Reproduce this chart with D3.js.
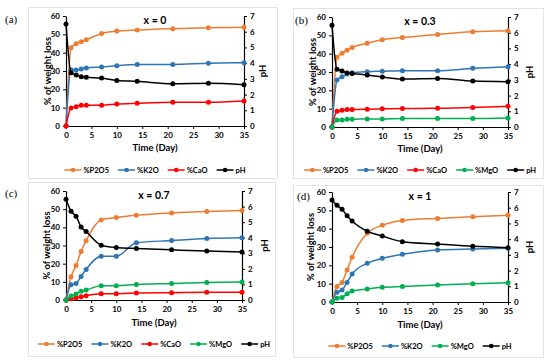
<!DOCTYPE html>
<html><head><meta charset="utf-8">
<script src="https://cdn.jsdelivr.net/npm/d3@7"></script>
<style>body{margin:0;background:#fff;} svg{display:block;}</style>
</head><body>
<svg id="c" width="550" height="362"></svg>
<script>
const days = [0,1,2,3,4,7,10,14,21,28,35];
const xTicks = [0,5,10,15,20,25,30,35];
const yTicks = [0,10,20,30,40,50,60];
const pHTicks = [0,1,2,3,4,5,6,7];
const panelLabels = ["(a)","(b)","(c)","(d)"];
const panelTitles = ["x = 0","x = 0.3","x = 0.7","x = 1"];
const seriesNames = ["%P2O5","%K2O","%CaO","%MgO","pH"];
const seriesColors = ["#ED7D31","#2E75B6","#FF0000","#00B050","#000000"];

// panel (a) x = 0
const a_P2O5 = [0,42.7,44.9,46.0,47.1,50.5,51.8,52.4,53.1,53.6,53.8];
const a_K2O  = [0,30.7,30.5,31.1,31.6,32.2,32.9,33.5,33.6,34.2,34.5];
const a_CaO  = [0,9.8,10.5,11.3,11.3,11.3,12.0,12.4,12.9,12.9,13.6];
const a_pH   = [6.49,3.39,3.25,3.14,3.10,3.05,2.90,2.84,2.69,2.72,2.63];
// panel (b) x = 0.3
const b_P2O5 = [0,38.0,40.2,41.9,43.4,45.7,47.6,48.8,50.5,51.9,52.5];
const b_K2O  = [0,25.6,27.4,28.9,29.6,30.2,30.4,30.7,30.7,32.0,32.9];
const b_CaO  = [0,8.6,9.1,9.5,9.5,9.7,9.9,10.1,10.2,10.6,11.3];
const b_MgO  = [0,3.8,3.8,4.2,4.2,4.4,4.4,4.6,4.6,4.6,4.9];
const b_pH   = [6.47,3.67,3.56,3.44,3.41,3.31,3.18,3.05,3.09,2.92,2.88];
// panel (c) x = 0.7
const c_P2O5 = [0,12.8,19.0,26.7,32.6,44.1,45.4,46.6,47.9,48.7,49.2];
const c_K2O  = [0,8.4,9.1,13.0,16.8,24.1,24.1,31.5,32.7,33.8,34.2];
const c_CaO  = [0,0.7,1.3,1.8,2.4,3.5,3.5,3.8,4.0,4.2,4.2];
const c_MgO  = [0,2.2,3.3,4.8,5.5,7.9,7.9,8.6,9.1,9.7,9.9];
const c_pH   = [6.47,5.70,5.38,4.69,4.40,3.52,3.37,3.31,3.22,3.14,3.09];
// panel (d) x = 1
const d_P2O5 = [0,8.5,10.7,17.5,24.4,37.5,41.8,44.4,45.6,46.5,47.3];
const d_K2O  = [0,5.3,6.5,10.7,15.3,21.1,23.8,26.0,28.4,28.9,29.3];
const d_MgO  = [0,2.0,2.5,4.5,6.0,7.1,8.0,8.5,9.3,10.0,10.5];
const d_pH   = [6.49,6.15,5.90,5.49,5.15,4.50,4.20,3.84,3.69,3.54,3.46];

const panels = [
  {label:0, frame:[28,7,277,178], labPos:[5,23], plot:[66,244,16,126], leg:170, yTitleX:48, pHX:263, timeY:151,
   series:[[0,a_P2O5],[1,a_K2O],[2,a_CaO],[4,a_pH]]},
  {label:1, frame:[293,8,543,178], labPos:[295,24], plot:[332,508,17,127], leg:170, yTitleX:313, pHX:530, timeY:152,
   series:[[0,b_P2O5],[1,b_K2O],[2,b_CaO],[3,b_MgO],[4,b_pH]]},
  {label:2, frame:[28,182,275,356], labPos:[5,197], plot:[66,242,191,300], leg:344, yTitleX:47, pHX:265, timeY:326,
   series:[[0,c_P2O5],[1,c_K2O],[2,c_CaO],[3,c_MgO],[4,c_pH]]},
  {label:3, frame:[293,185,543,357], labPos:[297,200], plot:[332,508,192,302], leg:346, yTitleX:311, pHX:530, timeY:328,
   series:[[0,d_P2O5],[1,d_K2O],[3,d_MgO],[4,d_pH]]}
];

const svg = d3.select("#c");
const FONT = "Lato, 'Open Sans', sans-serif";

panels.forEach((p, pi) => {
  const g = svg.append("g");
  const [fx0, fy0, fx1, fy1] = p.frame;
  g.append("rect").attr("x", fx0+0.5).attr("y", fy0+0.5).attr("width", fx1-fx0).attr("height", fy1-fy0)
    .attr("fill","none").attr("stroke","#e3e3e3").attr("stroke-width",1);
  g.append("text").attr("x", p.labPos[0]).attr("y", p.labPos[1]).attr("font-weight","normal")
    .attr("font-family","'Liberation Serif', 'DejaVu Serif', serif").attr("font-size",11).text(panelLabels[p.label]);

  const [x0,x1,yT,yB] = p.plot;
  const x = d3.scaleLinear().domain([0,35]).range([x0,x1]);
  const y = d3.scaleLinear().domain([0,60]).range([yB,yT]);
  const yp = d3.scaleLinear().domain([0,7]).range([yB,yT]);

  const axStyle = sel => {
    sel.selectAll("path").attr("stroke","#000").attr("stroke-width",1.2);
    sel.selectAll("line").attr("stroke","#000").attr("stroke-width",1);
    sel.selectAll("text").attr("font-family",FONT).attr("font-weight","bold").attr("font-size",8).attr("fill","#000");
  };
  const fmt = d3.format("d");
  g.append("g").attr("transform",`translate(0,${yB})`)
    .call(d3.axisBottom(x).tickValues(xTicks).tickFormat(fmt).tickSize(3).tickSizeOuter(0).tickPadding(3)).call(axStyle);
  g.append("g").attr("transform",`translate(${x0},0)`)
    .call(d3.axisLeft(y).tickValues(yTicks).tickFormat(fmt).tickSize(3).tickSizeOuter(0).tickPadding(3)).call(axStyle);
  g.append("g").attr("transform",`translate(${x1},0)`)
    .call(d3.axisRight(yp).tickValues(pHTicks).tickFormat(fmt).tickSize(3).tickSizeOuter(0).tickPadding(3)).call(axStyle);

  // titles
  g.append("text").attr("x",(x0+x1)/2).attr("y",yT+8).attr("text-anchor","middle")
    .attr("font-family",FONT).attr("font-weight","bold").attr("font-size",10.5).text(panelTitles[p.label]);
  g.append("text").attr("transform",`translate(${p.yTitleX},${(yT+yB)/2}) rotate(-90)`).attr("text-anchor","middle")
    .attr("dy","0.35em").attr("font-family",FONT).attr("font-weight","bold").attr("font-size",9.5).text("% of weight loss");
  g.append("text").attr("transform",`translate(${p.pHX},${(yT+yB)/2}) rotate(-90)`).attr("text-anchor","middle")
    .attr("dy","0.35em").attr("font-family",FONT).attr("font-weight","bold").attr("font-size",9.5).text("pH");
  g.append("text").attr("x",(x0+x1)/2).attr("y",p.timeY).attr("text-anchor","middle")
    .attr("font-family",FONT).attr("font-weight","bold").attr("font-size",9.5).text("Time (Day)");

  // series
  p.series.forEach(([si, vals]) => {
    const ys = si === 4 ? yp : y;
    const pts = days.map((d,i)=>[x(d), ys(vals[i])]);
    const line = d3.line().curve(d3.curveMonotoneX);
    g.append("path").attr("d", line(pts)).attr("fill","none").attr("stroke",seriesColors[si]).attr("stroke-width",1.5);
    g.selectAll(null).data(pts).enter().append("circle")
      .attr("cx",d=>d[0]).attr("cy",d=>d[1]).attr("r",2.5).attr("fill",seriesColors[si]);
  });

  // legend
  const lg = g.append("g");
  const items = p.series.map(([si]) => si);
  const lineW = 17, gapT = 2, gapI = 9;
  let cx = 0;
  items.forEach(si => {
    const it = lg.append("g").attr("transform",`translate(${cx},0)`);
    it.append("line").attr("x1",0).attr("x2",lineW).attr("y1",0).attr("y2",0)
      .attr("stroke",seriesColors[si]).attr("stroke-width",1.5);
    it.append("circle").attr("cx",lineW/2).attr("cy",0).attr("r",2.3).attr("fill",seriesColors[si]);
    const t = it.append("text").attr("x",lineW+gapT).attr("y",0).attr("dy","0.35em")
      .attr("font-family",FONT).attr("font-weight","bold").attr("font-size",7.5).text(seriesNames[si]);
    cx += lineW + gapT + t.node().getComputedTextLength() + gapI;
  });
  const total = cx - gapI;
  lg.attr("transform",`translate(${(x0+x1)/2 - total/2},${p.leg})`);
});
</script>
</body></html>
